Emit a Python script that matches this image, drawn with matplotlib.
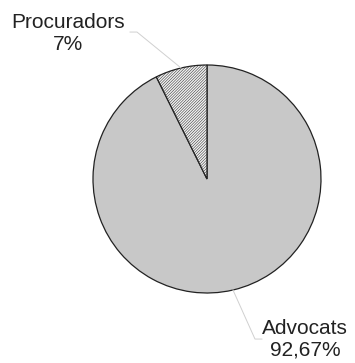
import matplotlib
matplotlib.use("Agg")
import matplotlib.pyplot as plt

# data
labels = ["Advocats", "Procuradors"]
shares = [92.67, 7.33]
label_texts = ["Advocats\n92,67%", "Procuradors\n7%"]

plt.rcParams['font.family'] = ['Liberation Sans', 'DejaVu Sans']
plt.rcParams['hatch.linewidth'] = 0.35
plt.rcParams['hatch.color'] = '#b0b0b0'

fig = plt.figure(figsize=(3.55, 3.63), dpi=100)
W, H = 355, 363
cx, cy, r = 207, 179, 114
ax = fig.add_axes([(cx - r) / W, (H - cy - r) / H, 2 * r / W, 2 * r / H])

wedges, _ = ax.pie(shares, startangle=90, counterclock=True,
                   colors=['#c8c8c8', '#f2f2f2'],
                   wedgeprops=dict(edgecolor='#222222', linewidth=0.9))
# pie goes counterclockwise from top: put Procuradors on the left of the top
wedges[0].set_theta1(90 + 360 * shares[1] / 100)
wedges[0].set_theta2(450)
wedges[1].set_theta1(90)
wedges[1].set_theta2(90 + 360 * shares[1] / 100)
wedges[1].set_hatch('/' * 12)

ax.set_xlim(-1, 1)
ax.set_ylim(-1, 1)
ax.set_aspect('equal')
ax.axis('off')

# leader lines
ax.plot([-0.675, -0.614, -0.228], [1.289, 1.289, 0.974], color='#d0d0d0', lw=0.7, clip_on=False)
ax.plot([0.228, 0.421, 0.482], [-0.974, -1.404, -1.404], color='#d0d0d0', lw=0.7, clip_on=False)

ax.text(-1.219, 1.272, label_texts[1], ha='center', va='center', fontsize=15,
        color='#222222', linespacing=1.2, clip_on=False)
ax.text(0.860, -1.404, label_texts[0], ha='center', va='center', fontsize=15,
        color='#222222', linespacing=1.2, clip_on=False)

fig.savefig("out.png", dpi=100)
